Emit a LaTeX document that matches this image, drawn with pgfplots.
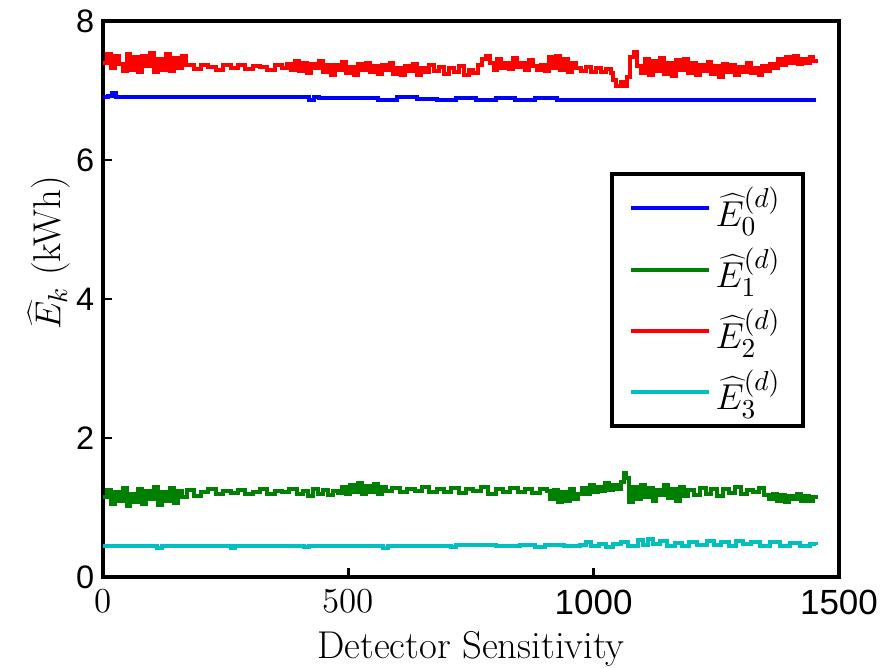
\documentclass[border=0pt]{standalone}
\usepackage{fontspec}
\newfontfamily\arial{Liberation Sans}
\usepackage{pgfplots}
\pgfplotsset{compat=1.18}
\definecolor{mblue}{rgb}{0,0,1}
\definecolor{mgreen}{rgb}{0,0.5,0}
\definecolor{mred}{rgb}{1,0,0}
\definecolor{mcyan}{rgb}{0,0.75,0.75}

\begin{document}
\begin{tikzpicture}
\begin{axis}[
  name=ax,
  scale only axis, width=294.4pt, height=222.4pt,
  xmin=0, xmax=1500, ymin=0, ymax=8,
  axis line style={line width=1.8pt},
  tick style={line width=1pt, black},
  major tick length=3.5pt,
  tick align=inside,
  xtick pos=bottom, ytick pos=left,
  xtick={0,500,1000,1500},
  xticklabels={0,500,{\arial 1000},{\arial 1500}},
  ytick={0,2,4,6,8},
  yticklabels={0,2,4,6,8},
  xticklabel style={font=\fontsize{14}{16}\selectfont, yshift=-1.5pt},
  yticklabel style={font=\arial\fontsize{13}{15}\selectfont},
  xlabel={Detector Sensitivity},
  ylabel={$\widehat{E}_k$ (kWh)},
  xlabel style={font=\fontsize{15.5}{17}\selectfont, yshift=0pt},
  ylabel style={font=\fontsize{15.5}{17}\selectfont, at={(ticklabel cs:0.583)}, yshift=-4.5pt},
  legend cell align=left,
  legend image code/.code={\draw[#1] (0pt,0pt) -- (31pt,0pt);},
  legend style={at={(rel axis cs:0.954,0.728)}, anchor=north east,
    draw=black, line width=1.6pt, font=\fontsize{15.5}{17}\selectfont,
    row sep=3pt, inner xsep=7pt, inner ysep=3pt},
]
\addplot[mblue, line width=1.6pt, const plot] coordinates {
(0,6.91) (10,6.92) (18,6.96) (26,6.91) (100,6.90) (416,6.90) (420,6.87) (430,6.90)
(440,6.89) (500,6.89) (560,6.86) (600,6.90) (640,6.88) (680,6.86) (720,6.89)
(760,6.86) (800,6.89) (840,6.86) (880,6.89) (925,6.87) (1453,6.87)
};
\addlegendentry{$\widehat{E}_0^{(d)}$}
\addplot[mgreen, line width=1.6pt, const plot] coordinates {
(0,1.15) (8,1.25) (16,1.05) (24,1.22) (32,1.10) (40,1.28) (48,1.02) (56,1.20)
(64,1.08) (72,1.27) (80,1.05) (88,1.24) (96,1.12) (104,1.30) (112,1.03) (120,1.22)
(128,1.10) (136,1.28) (144,1.06) (152,1.24) (160,1.15)
(172,1.25) (185,1.17) (200,1.23) (215,1.27) (230,1.20) (245,1.24) (260,1.21)
(275,1.25) (290,1.19) (305,1.23) (320,1.26) (335,1.20) (350,1.24) (365,1.22)
(380,1.26) (395,1.20)
(408,1.24) (418,1.17) (428,1.26) (438,1.20) (448,1.25) (458,1.18) (468,1.24) (478,1.21)
(488,1.30) (496,1.20) (504,1.33) (512,1.22) (520,1.35) (528,1.19) (536,1.31)
(544,1.23) (552,1.34) (560,1.20) (568,1.30) (576,1.24)
(590,1.28) (605,1.22) (620,1.27) (635,1.24) (650,1.30) (665,1.22) (680,1.26)
(695,1.23) (710,1.28) (725,1.21) (740,1.27) (755,1.24) (770,1.29) (785,1.20) (800,1.26)
(815,1.22) (830,1.28) (845,1.23) (860,1.27) (875,1.21) (890,1.26) (905,1.24)
(912,1.12) (920,1.25) (928,1.08) (936,1.22) (944,1.10) (952,1.27) (960,1.12) (968,1.20)
(976,1.28) (984,1.20) (992,1.32) (1000,1.22) (1008,1.30) (1016,1.24) (1024,1.35)
(1032,1.25) (1040,1.33) (1048,1.26) (1056,1.36) (1062,1.50) (1066,1.42)
(1072,1.08) (1080,1.30) (1088,1.12) (1096,1.33) (1104,1.15) (1112,1.28) (1120,1.10)
(1128,1.25) (1136,1.18) (1144,1.32) (1152,1.14) (1160,1.26) (1168,1.10) (1176,1.30) (1184,1.17)
(1192,1.25) (1204,1.18) (1216,1.28) (1228,1.20) (1240,1.26) (1252,1.16) (1264,1.27)
(1276,1.21) (1288,1.29) (1300,1.19) (1312,1.25) (1324,1.22) (1336,1.28) (1348,1.18)
(1358,1.12) (1366,1.20) (1374,1.10) (1382,1.18) (1390,1.08) (1398,1.17) (1406,1.12)
(1414,1.20) (1422,1.10) (1430,1.16) (1438,1.09) (1446,1.15) (1453,1.12)
};
\addlegendentry{$\widehat{E}_1^{(d)}$}
\addplot[mred, line width=1.6pt, const plot] coordinates {
(0,7.40) (8,7.52) (16,7.33) (24,7.50) (32,7.38)
(40,7.28) (48,7.52) (56,7.30) (64,7.48) (72,7.26) (80,7.50) (88,7.35) (96,7.54)
(104,7.27) (112,7.45) (120,7.30) (128,7.52) (136,7.28) (144,7.47) (152,7.32) (160,7.50)
(170,7.36) (185,7.31) (200,7.37) (215,7.34) (230,7.30) (245,7.36) (260,7.33)
(275,7.37) (290,7.31) (305,7.35) (320,7.34) (335,7.30) (350,7.36) (365,7.33) (375,7.38)
(384,7.30) (392,7.42) (400,7.28) (408,7.40) (416,7.25) (424,7.38) (432,7.32) (440,7.43)
(448,7.27) (456,7.36) (464,7.22) (472,7.37) (480,7.30) (488,7.41) (496,7.25) (504,7.34)
(512,7.22) (520,7.38) (528,7.30) (536,7.40) (544,7.26) (552,7.35) (560,7.24) (568,7.36)
(576,7.29) (584,7.39) (592,7.24) (600,7.33) (608,7.22) (616,7.35) (624,7.28) (632,7.38)
(640,7.23) (648,7.33) (656,7.26) (664,7.36)
(675,7.28) (685,7.34) (695,7.24) (705,7.32) (715,7.26) (725,7.35) (735,7.23) (745,7.30)
(755,7.25) (765,7.36) (772,7.45) (780,7.50) (788,7.40)
(796,7.30) (804,7.45) (812,7.33) (820,7.40) (828,7.31) (836,7.47) (844,7.34) (852,7.39)
(860,7.30) (868,7.44) (876,7.35)
(884,7.30) (892,7.36) (900,7.28) (908,7.48) (916,7.32) (924,7.50) (932,7.30) (940,7.45)
(948,7.27) (956,7.40) (964,7.33)
(975,7.28) (985,7.34) (995,7.26) (1005,7.32) (1015,7.27) (1025,7.31) (1035,7.25)
(1040,7.15) (1045,7.06) (1055,7.12) (1062,7.06) (1068,7.20)
(1075,7.48) (1082,7.55) (1088,7.35)
(1096,7.25) (1104,7.45) (1112,7.22) (1120,7.42) (1128,7.28) (1136,7.47) (1144,7.24)
(1152,7.40) (1160,7.21) (1168,7.44) (1176,7.30) (1184,7.46)
(1192,7.25) (1200,7.40) (1208,7.22) (1216,7.36) (1224,7.28) (1232,7.41) (1240,7.24)
(1248,7.35) (1256,7.20) (1264,7.38) (1272,7.27) (1280,7.37) (1288,7.23) (1296,7.34)
(1304,7.27) (1312,7.39) (1320,7.25) (1328,7.33) (1336,7.22) (1344,7.35) (1352,7.28)
(1360,7.38) (1368,7.32) (1376,7.45) (1384,7.36) (1392,7.48) (1400,7.40) (1408,7.50)
(1416,7.38) (1424,7.46) (1432,7.40) (1440,7.48) (1448,7.42) (1453,7.45)
};
\addlegendentry{$\widehat{E}_2^{(d)}$}
\addplot[mcyan, line width=1.6pt, const plot] coordinates {
(0,0.45) (100,0.45) (110,0.42) (120,0.45) (250,0.45) (260,0.42) (270,0.45)
(400,0.45) (410,0.43) (420,0.45) (560,0.45) (570,0.42) (580,0.45) (700,0.45)
(710,0.43) (720,0.46) (800,0.45) (850,0.46) (880,0.43) (900,0.46) (940,0.44)
(972,0.46) (985,0.50) (995,0.44) (1010,0.48) (1025,0.43) (1040,0.47) (1055,0.50)
(1070,0.45) (1090,0.53) (1100,0.46) (1110,0.54) (1120,0.47) (1135,0.52) (1150,0.45)
(1165,0.49) (1180,0.44) (1195,0.50) (1210,0.46) (1230,0.52) (1245,0.46) (1260,0.51)
(1275,0.45) (1290,0.52) (1305,0.47) (1320,0.50) (1340,0.44) (1360,0.50) (1380,0.45)
(1400,0.49) (1420,0.45) (1440,0.48) (1453,0.46)
};
\addlegendentry{$\widehat{E}_3^{(d)}$}
\end{axis}
\pgfresetboundingbox
\path[use as bounding box] ([shift={(-41.2pt,-36.4pt)}]ax.south west) rectangle ([shift={(312.8pt,230.8pt)}]ax.south west);
\end{tikzpicture}
\end{document}
